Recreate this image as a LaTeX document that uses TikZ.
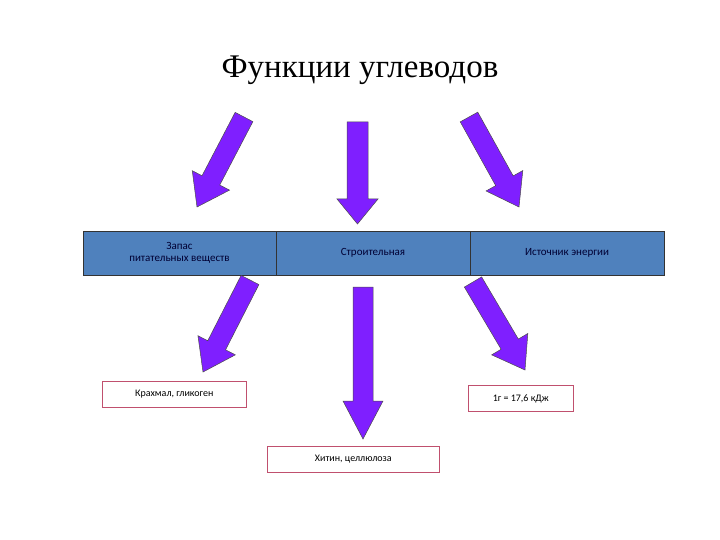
\documentclass[tikz,border=0pt]{standalone}
\usepackage{fontspec}
\setmainfont{Carlito}
\newfontfamily\titlefont{Liberation Serif}
\usetikzlibrary{calc}
\definecolor{arrowfill}{HTML}{7F1FFF}
\definecolor{barfill}{HTML}{4F81BD}
\definecolor{pinkline}{HTML}{C0506E}
\tikzset{
  bararrow/.style={fill=arrowfill,draw=black!70,line width=0.5pt,line join=miter},
  barcell/.style={draw=black!80,fill=barfill,line width=0.8pt,minimum height=44pt,inner sep=0pt,align=center,font=\fontsize{11}{12}\selectfont,text=black!80!blue},
  resbox/.style={draw=pinkline,fill=white,line width=0.6pt,minimum height=26pt,inner sep=4pt,anchor=west,font=\fontsize{10}{12}\selectfont,text=black}
}
\newcommand\blockarr[5]{%
  \path[bararrow] let \p1=(#1), \p2=(#2) in
   ($(\p1)!#3!90:(\p2)$) --
   ($($(\p2)!#5!(\p1)$)!#3!-90:(\p1)$) --
   ($($(\p2)!#5!(\p1)$)!#4!-90:(\p1)$) --
   (\p2) --
   ($($(\p2)!#5!(\p1)$)!#4!90:(\p1)$) --
   ($($(\p2)!#5!(\p1)$)!#3!90:(\p1)$) --
   ($(\p1)!#3!-90:(\p2)$) -- cycle;}
\begin{document}
\begin{tikzpicture}[x=1pt,y=-1pt]
\useasboundingbox[fill=white] (0,0) rectangle (720,540);
\node[font=\titlefont\fontsize{33}{36}\selectfont] (title) at (360,70) {Функции углеводов};
\coordinate (t1a) at (244,117); \coordinate (t1b) at (197,207);
\coordinate (t2a) at (357.5,122); \coordinate (t2b) at (357.5,224);
\coordinate (t3a) at (469,117); \coordinate (t3b) at (519,207);
\blockarr{t1a}{t1b}{10pt}{21pt}{30pt}
\blockarr{t2a}{t2b}{10.5pt}{20.5pt}{25pt}
\blockarr{t3a}{t3b}{10pt}{21pt}{30pt}
\node[barcell,minimum width=193pt] (c1) at (179.5,253) {Запас\\питательных веществ};
\node[barcell,minimum width=194pt] (c2) at (373,253) {Строительная};
\node[barcell,minimum width=194pt] (c3) at (567,253) {Источник энергии};
\coordinate (b1a) at (250,280); \coordinate (b1b) at (203,372);
\coordinate (b2a) at (363,287); \coordinate (b2b) at (363,439);
\coordinate (b3a) at (473,282); \coordinate (b3b) at (525,370);
\blockarr{b1a}{b1b}{10pt}{21pt}{30pt}
\blockarr{b2a}{b2b}{10pt}{20pt}{38pt}
\blockarr{b3a}{b3b}{10pt}{21pt}{30pt}
\node[resbox,minimum width=144pt] (r1) at (102,394) {Крахмал, гликоген};
\node[resbox,minimum width=105pt] (r3) at (468,398.5) {1г = 17,6 кДж};
\node[resbox,minimum width=172pt] (r2) at (267,459) {Хитин, целлюлоза};
\end{tikzpicture}
\end{document}
